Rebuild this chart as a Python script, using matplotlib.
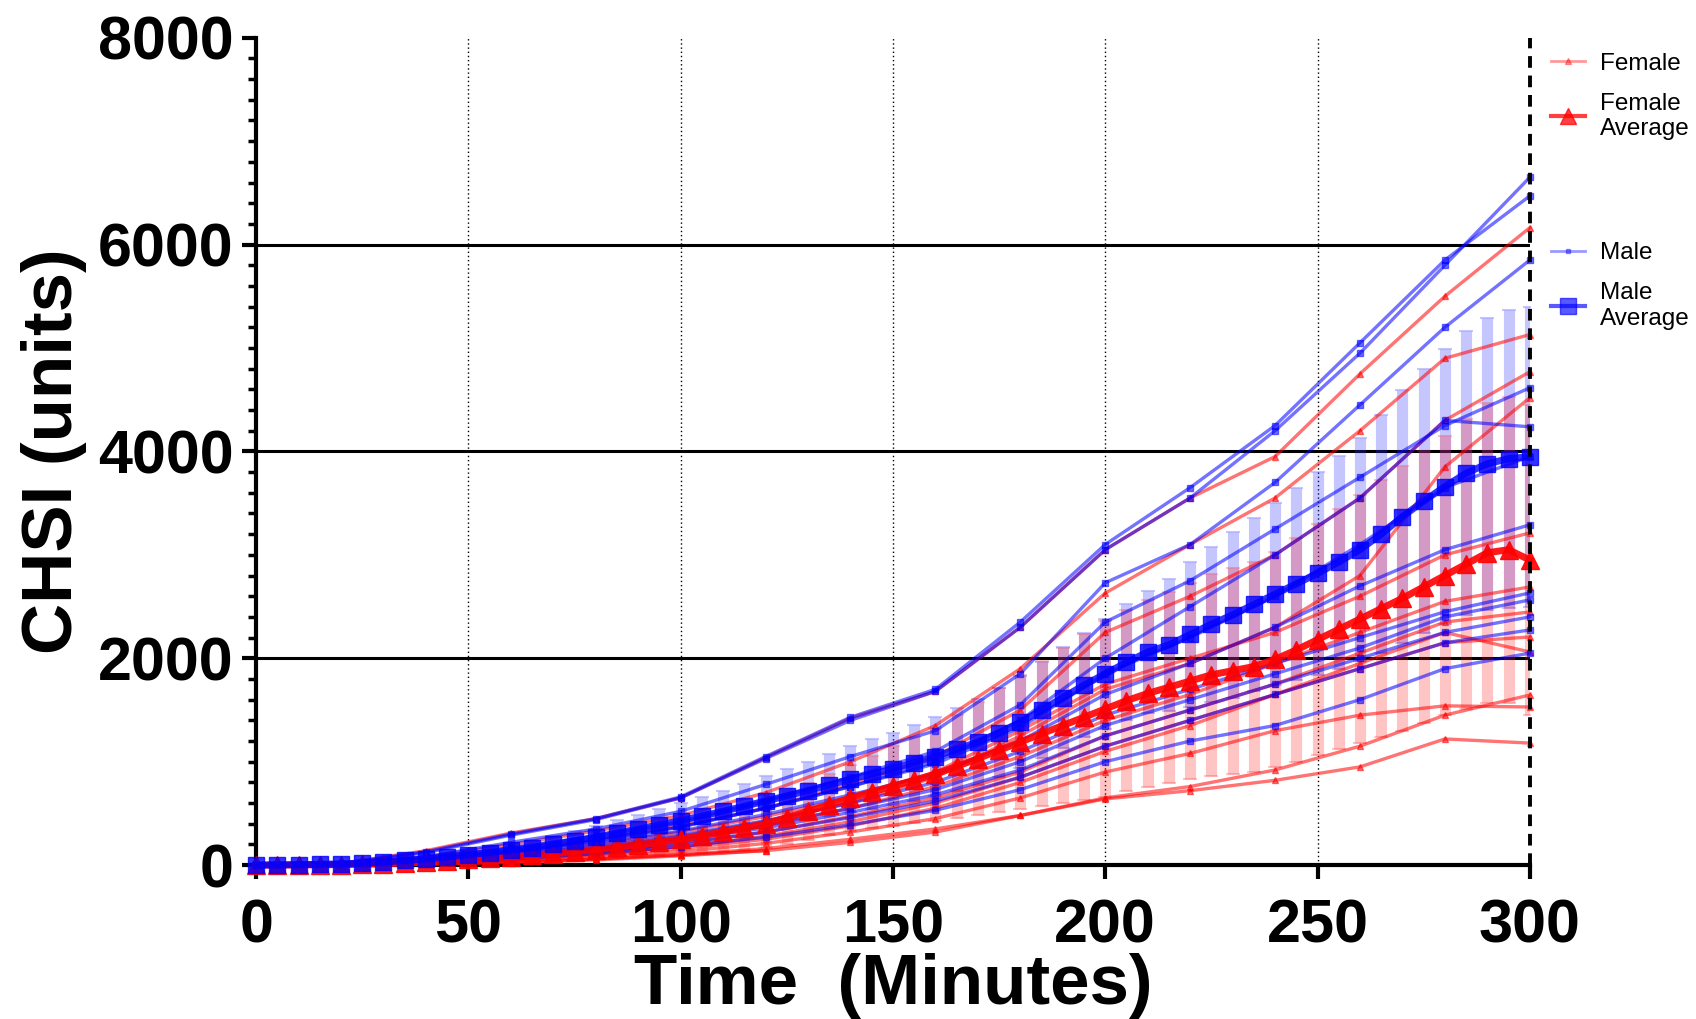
import numpy as np
import matplotlib
matplotlib.use("Agg")
import matplotlib.pyplot as plt
from matplotlib.lines import Line2D

plt.rcParams['font.family'] = ['Liberation Sans', 'DejaVu Sans']

# ---------------- data ----------------
# individual animals, sampled every 20 min
t_ind = [0, 20, 40, 60, 80, 100, 120, 140, 160, 180, 200, 220, 240, 260, 280, 300]
nan = np.nan
female_curves = [
    [0, 15, 140, 310, 450, 650, 1040, 1420, 1680, 2300, 3050, 3550, 3950, 4750, 5500, 6163],
    [0, 10, 80, 200, 330, 480, 700, 1000, 1350, 1900, 2630, 3100, 3550, 4200, 4900, 5130],
    [0, 5, 50, 150, 250, 380, 550, 780, 1050, 1500, 2250, 2600, 3000, 3550, 4300, 4770],
    [0, 5, 30, 90, 170, 280, 420, 600, 850, 1250, 1700, 1950, 2300, 2800, 3850, 4519],
    [0, 5, 40, 110, 200, 320, 470, 650, 900, 1300, 1750, 2000, 2250, 2600, 3000, 3212],
    [0, 5, 30, 90, 160, 250, 380, 550, 760, 1050, 1400, 1650, 1950, 2250, 2550, 2690],
    [0, 5, 25, 70, 130, 210, 320, 470, 650, 900, 1250, 1500, 1750, 2050, 2350, 2448],
    [0, 5, 25, 60, 110, 180, 280, 420, 600, 850, 1150, 1400, 1650, 1900, 2150, 2206],
    [0, 3, 20, 50, 100, 160, 250, 380, 550, 800, 1100, 1350, 1650, 1950, 2250, 2061],
    [0, 2, 10, 30, 60, 100, 160, 250, 350, 480, 650, 760, 920, 1150, 1450, 1645],
    [0, 3, 15, 40, 80, 130, 210, 320, 450, 650, 900, 1080, 1300, 1450, 1540, 1529],
    [0, 2, 10, 25, 50, 90, 140, 220, 320, 480, 640, 720, 820, 950, 1220, 1180],
    [0, 2, 10, 30, 60, 100, 140, nan, nan, nan, nan, nan, nan, nan, nan, nan],
]
male_curves = [
    [0, 15, 130, 300, 450, 660, 1050, 1430, 1700, 2350, 3100, 3650, 4250, 5050, 5850, 6470],
    [0, 10, 120, 290, 440, 650, 1030, 1400, 1680, 2300, 3050, 3550, 4200, 4950, 5800, 6650],
    [0, 10, 80, 220, 350, 520, 780, 1050, 1300, 1850, 2730, 3100, 3700, 4450, 5200, 5850],
    [0, 8, 60, 170, 280, 420, 620, 850, 1100, 1550, 2350, 2750, 3250, 3750, 4250, 4615],
    [0, 5, 50, 140, 240, 370, 550, 760, 1000, 1400, 2000, 2500, 3000, 3550, 4300, 4238],
    [0, 5, 50, 130, 230, 370, 550, 760, 980, 1330, 1850, 2200, 2600, 3100, 3650, 3950],
    [0, 5, 40, 120, 210, 330, 490, 680, 880, 1200, 1650, 1950, 2300, 2700, 3050, 3290],
    [0, 5, 35, 100, 180, 290, 430, 600, 800, 1100, 1450, 1700, 1950, 2200, 2450, 2632],
    [0, 5, 30, 90, 160, 260, 390, 550, 730, 1000, 1350, 1600, 1850, 2100, 2400, 2564],
    [0, 5, 30, 80, 150, 240, 360, 510, 680, 920, 1250, 1500, 1750, 2000, 2250, 2400],
    [0, 5, 25, 70, 130, 210, 320, 460, 620, 850, 1150, 1400, 1650, 1900, 2150, 2274],
    [0, 3, 20, 60, 110, 180, 270, 390, 530, 730, 1000, 1200, 1350, 1600, 1900, 2050],
]

# group averages and SD, sampled every 5 min
t_avg = list(range(0, 301, 5))
female_mean = [0, 1, 2, 3, 5, 8, 13, 20, 30, 42, 55, 67, 80, 95, 112, 130, 150, 172, 197, 222,
               250, 285, 320, 360, 400, 460, 520, 585, 650, 705, 765, 820, 880, 955, 1030, 1110,
               1190, 1270, 1350, 1430, 1510, 1590, 1660, 1720, 1780, 1840, 1880, 1920, 1990, 2080,
               2180, 2280, 2380, 2480, 2580, 2690, 2800, 2910, 3020, 3050, 2950]
female_sd = [0, 1, 2, 3, 5, 7, 10, 14, 20, 27, 35, 42, 50, 60, 70, 80, 90, 105, 120, 135,
             150, 170, 190, 210, 230, 252, 275, 298, 320, 350, 385, 415, 450, 500, 550, 600,
             650, 700, 750, 800, 850, 875, 900, 925, 950, 975, 995, 1015, 1040, 1080,
             1120, 1160, 1200, 1240, 1280, 1315, 1350, 1400, 1450, 1480, 1500]
male_mean = [0, 2, 5, 8, 12, 20, 30, 45, 60, 80, 100, 122, 145, 170, 200, 235, 270, 310, 350, 390,
             430, 475, 520, 570, 620, 670, 720, 775, 830, 880, 930, 990, 1050, 1120, 1190, 1280,
             1380, 1500, 1620, 1740, 1850, 1960, 2060, 2130, 2230, 2330, 2420, 2520, 2620, 2720,
             2820, 2930, 3050, 3200, 3370, 3520, 3660, 3790, 3880, 3930, 3950]
male_sd = [0, 1, 3, 5, 8, 12, 17, 23, 30, 38, 46, 54, 62, 72, 83, 95, 108, 122, 137, 152,
           168, 184, 200, 218, 237, 256, 276, 297, 318, 335, 352, 368, 385, 400, 415, 430,
           445, 465, 485, 505, 530, 560, 590, 640, 700, 750, 800, 840, 880, 930,
           980, 1030, 1080, 1150, 1220, 1280, 1330, 1370, 1410, 1440, 1450]

x_ticks = [0, 50, 100, 150, 200, 250, 300]
y_ticks = [0, 2000, 4000, 6000, 8000]

RED = '#FF0000'
BLUE = '#0000FF'

# ---------------- figure ----------------
fig = plt.figure(figsize=(16.96, 10.19), dpi=100)
ax = fig.add_axes([0.151, 0.151, 0.751, 0.812])

# grid
for yv in [2000, 4000, 6000]:
    ax.axhline(yv, color='black', lw=2.2, zorder=1)
for xv in [50, 100, 150, 200, 250]:
    ax.axvline(xv, color='black', lw=1.0, ls=(0, (1, 2)), zorder=1)

# error bars
ax.errorbar(t_avg, male_mean, yerr=male_sd, fmt='none', ecolor=(0.2, 0.2, 1, 0.28),
            elinewidth=8, capsize=5, capthick=1.5, zorder=2)
ax.errorbar(t_avg, female_mean, yerr=female_sd, fmt='none', ecolor=(1, 0.1, 0.1, 0.25),
            elinewidth=8, capsize=5, capthick=1.5, zorder=2)

# individual curves
for c in female_curves:
    ax.plot(t_ind, c, color=RED, alpha=0.55, lw=2.4, marker='^', ms=4.5, zorder=3, clip_on=False)
for c in male_curves:
    ax.plot(t_ind, c, color=BLUE, alpha=0.55, lw=2.4, marker='s', ms=4, zorder=3, clip_on=False)

# averages
ax.plot(t_avg, female_mean, color=RED, lw=5, marker='^', ms=13, alpha=0.9, zorder=4, clip_on=False)
ax.plot(t_avg, male_mean, color=BLUE, lw=5, marker='s', ms=12, alpha=0.8, zorder=5, clip_on=False)

# right dashed boundary
ax.axvline(300, color='black', lw=2.8, ls=(0, (3, 2)), zorder=6, clip_on=False)

ax.set_xlim(0, 300)
ax.set_ylim(0, 8000)
ax.set_xticks(x_ticks)
ax.set_yticks(y_ticks)
ax.set_yticks(np.arange(0, 8001, 200), minor=True)

for s in ['top', 'right']:
    ax.spines[s].set_visible(False)
for s in ['left', 'bottom']:
    ax.spines[s].set_linewidth(3)

ax.tick_params(axis='both', which='major', direction='out', length=10, width=3,
               labelsize=44, pad=6)
ax.tick_params(axis='x', which='major', pad=14)
ax.tick_params(axis='y', which='minor', direction='out', length=6, width=2.5)
for lbl in ax.get_xticklabels() + ax.get_yticklabels():
    lbl.set_fontweight('bold')

ax.set_xlabel('Time  (Minutes)', fontsize=51, fontweight='bold', labelpad=-2)
ax.set_ylabel('CHSI (units)', fontsize=51, fontweight='bold', labelpad=8)

# legends
h_f = Line2D([], [], color=RED, alpha=0.4, lw=2, marker='^', ms=4)
h_fa = Line2D([], [], color=RED, alpha=0.75, lw=3, marker='^', ms=11)
h_m = Line2D([], [], color=BLUE, alpha=0.4, lw=2, marker='s', ms=3.5)
h_ma = Line2D([], [], color=BLUE, alpha=0.65, lw=3, marker='s', ms=11)

common = dict(loc='upper left', frameon=False, fontsize=17.5, handlelength=1.4,
              handletextpad=0.6, labelspacing=0.75, borderaxespad=0.0)
leg1 = fig.legend([h_f, h_fa], ['Female', 'Female\nAverage'],
                  bbox_to_anchor=(0.909, 0.958), **common)
leg2 = fig.legend([h_m, h_ma], ['Male', 'Male\nAverage'],
                  bbox_to_anchor=(0.909, 0.772), **common)

fig.savefig('out.png', dpi=100)
